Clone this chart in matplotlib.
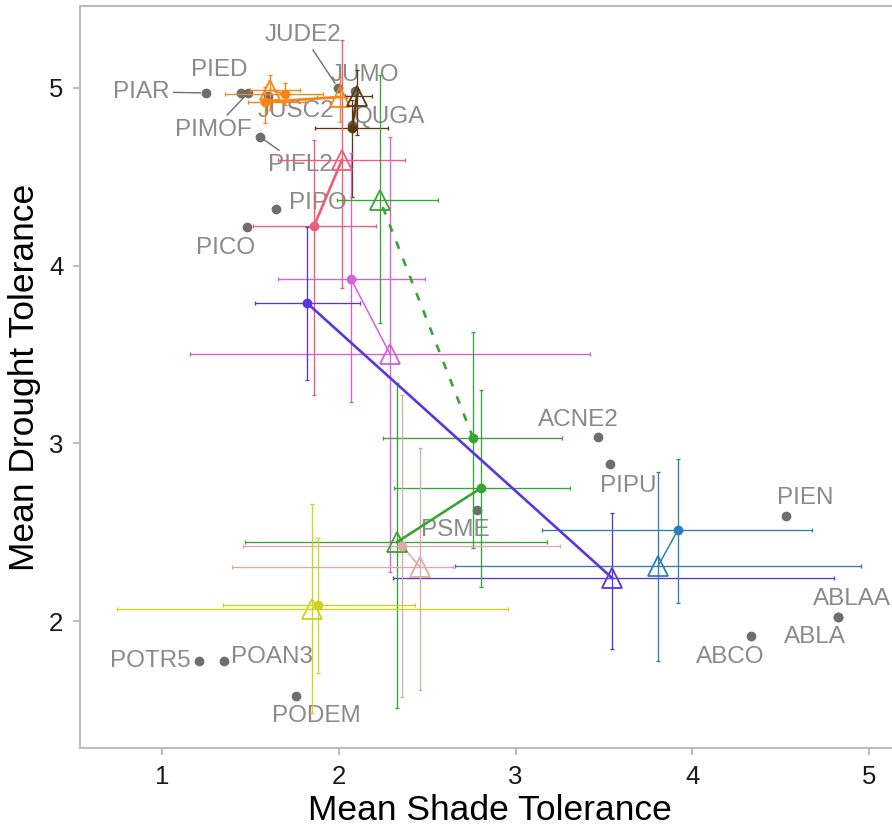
import matplotlib
matplotlib.use("Agg")
import matplotlib.pyplot as plt

plt.rcParams['font.family'] = ['Liberation Sans', 'DejaVu Sans']

# species means (gray points)
species = ['PIAR', 'PIED', 'PIMOF', 'JUDE2', 'JUMO', 'JUSC2', 'QUGA', 'PIFL2',
           'PIPO', 'PICO', 'ACNE2', 'PIPU', 'PSME', 'PIEN', 'ABLAA', 'ABLA',
           'ABCO', 'POTR5', 'POAN3', 'PODEM']
shade_sp = [1.249, 1.447, 1.487, 1.996, 2.090, 1.600, 2.075, 1.555,
            1.645, 1.481, 3.467, 3.535, 2.783, 4.531, 4.826, 4.826,
            4.333, 1.209, 1.351, 1.758]
drought_sp = [4.972, 4.972, 4.972, 5.000, 4.985, 4.955, 4.790, 4.724,
              4.319, 4.218, 3.036, 2.884, 2.625, 2.591, 2.023, 2.023,
              1.916, 1.776, 1.776, 1.578]

# group means: filled point (start) and open triangle (end), with ranges
start_x = [1.696, 1.583, 2.075, 1.860, 2.069, 1.820, 2.760, 2.805, 2.358, 1.883, 3.919]
start_y = [4.965, 4.921, 4.775, 4.223, 3.925, 3.790, 3.030, 2.749, 2.423, 2.091, 2.513]
start_xlo = [1.356, 1.487, 1.866, 1.515, 1.656, 1.526, 2.250, 2.313, 1.458, 1.345, 3.150]
start_xhi = [1.911, 1.809, 2.279, 2.211, 2.488, 2.120, 3.263, 3.308, 3.252, 2.431, 4.678]
start_ylo = [4.904, 4.803, 4.387, 3.272, 3.233, 3.357, 2.411, 2.192, 1.573, 1.708, 2.102]
start_yhi = [5.028, 5.006, 4.932, 4.707, 4.634, 4.218, 3.627, 3.300, 3.272, 2.468, 2.912]

end_x = [1.611, 2.007, 2.103, 2.018, 2.290, 3.546, 2.233, 2.330, 2.460, 1.849, 3.806]
end_y = [4.990, 4.949, 4.955, 4.595, 3.503, 2.243, 4.370, 2.445, 2.304, 2.068, 2.310]
end_xlo = [1.498, 1.877, 2.035, 1.656, 1.158, 2.307, 1.990, 1.470, 1.396, 0.745, 2.658]
end_xhi = [1.781, 2.047, 2.188, 2.375, 3.421, 4.802, 2.562, 3.178, 2.646, 2.958, 4.955]
end_ylo = [4.876, 4.809, 4.735, 3.875, 2.276, 1.843, 3.678, 1.511, 1.612, 1.483, 1.775]
end_yhi = [5.073, 5.062, 5.101, 5.270, 4.724, 2.608, 5.073, 3.340, 2.974, 2.659, 2.839]

colors = ['#FA8414', '#FA8414', '#5A3A12', '#EE5C78', '#D660DC', '#5A35E3',
          '#38A336', '#38A336', '#DDAAA6', '#CCD41E', '#2D7DBD']
styles = ['-', '-', '-', '-', '-', '-', (0, (3, 4)), '-', '-', '-', '-']
widths = [1.2, 1.9, 1.9, 1.9, 1.1, 1.9, 1.9, 1.9, 1.1, 1.1, 1.1]

# label offsets in pixels and which labels get a leader line
label_off = {'PIAR': (-65, 1), 'PIED': (-22, 23), 'PIMOF': (-35, -37),
             'JUDE2': (-35, 53), 'JUMO': (10, 16), 'JUSC2': (28, -15),
             'QUGA': (38, 8), 'PIFL2': (40, -28), 'PIPO': (42, 6),
             'PICO': (-21, -21), 'ACNE2': (-20, 17), 'PIPU': (18, -22),
             'PSME': (-22, -20), 'PIEN': (19, 18), 'ABLAA': (14, 18),
             'ABLA': (-23, -20), 'ABCO': (-21, -21), 'POTR5': (-49, 0),
             'POAN3': (48, 4), 'PODEM': (20, -20)}
leaders = ['PIAR', 'PIMOF', 'JUDE2', 'PIFL2']

fig = plt.figure(figsize=(8.92, 8.30), dpi=100)
ax = fig.add_axes([80 / 892, 82 / 830, 820 / 892, 742 / 830])

ax.plot(shade_sp, drought_sp, 'o', color='#6E6E6E', ms=6, zorder=2)
for name, sx, sy in zip(species, shade_sp, drought_sp):
    dx, dy = label_off[name]
    arrow = None
    if name in leaders:
        arrow = dict(arrowstyle='-', color='#6E6E6E', lw=1, shrinkA=1, shrinkB=4)
    ax.annotate(name, (sx, sy), xytext=(dx, dy), textcoords='offset pixels',
                ha='center', va='center', fontsize=17.5, color='#8A8A8A',
                arrowprops=arrow, zorder=1)

for i in range(len(start_x)):
    c = colors[i]
    ax.errorbar([start_x[i]], [start_y[i]],
                xerr=[[start_x[i] - start_xlo[i]], [start_xhi[i] - start_x[i]]],
                yerr=[[start_y[i] - start_ylo[i]], [start_yhi[i] - start_y[i]]],
                fmt='none', ecolor=c, elinewidth=0.95, capsize=1.5, capthick=0.95, zorder=3)
    ax.errorbar([end_x[i]], [end_y[i]],
                xerr=[[end_x[i] - end_xlo[i]], [end_xhi[i] - end_x[i]]],
                yerr=[[end_y[i] - end_ylo[i]], [end_yhi[i] - end_y[i]]],
                fmt='none', ecolor=c, elinewidth=0.95, capsize=1.5, capthick=0.95, zorder=3)
    ax.plot([start_x[i], end_x[i]], [start_y[i], end_y[i]], color=c,
            ls=styles[i], lw=widths[i], zorder=4)
    ax.plot(start_x[i], start_y[i], 'o', color=c, ms=6, zorder=5)
    ax.plot(end_x[i], end_y[i], '^', mfc='none', mec=c, ms=14, mew=1.3, zorder=5)

ax.set_xlim(0.536, 5.175)
ax.set_ylim(1.286, 5.461)
ax.set_xticks([1, 2, 3, 4, 5])
ax.set_yticks([2, 3, 4, 5])
ax.tick_params(labelsize=18.5, color='#B0B0B0', length=5, width=1.2, pad=7,
               labelcolor='#1A1A1A')
for sp in ax.spines.values():
    sp.set_color('#BDBDBD')
    sp.set_linewidth(1.5)
ax.set_xlabel('Mean Shade Tolerance', fontsize=25.5, labelpad=4)
ax.set_ylabel('Mean Drought Tolerance', fontsize=25.5, labelpad=6)

fig.savefig('out.png', dpi=100)
